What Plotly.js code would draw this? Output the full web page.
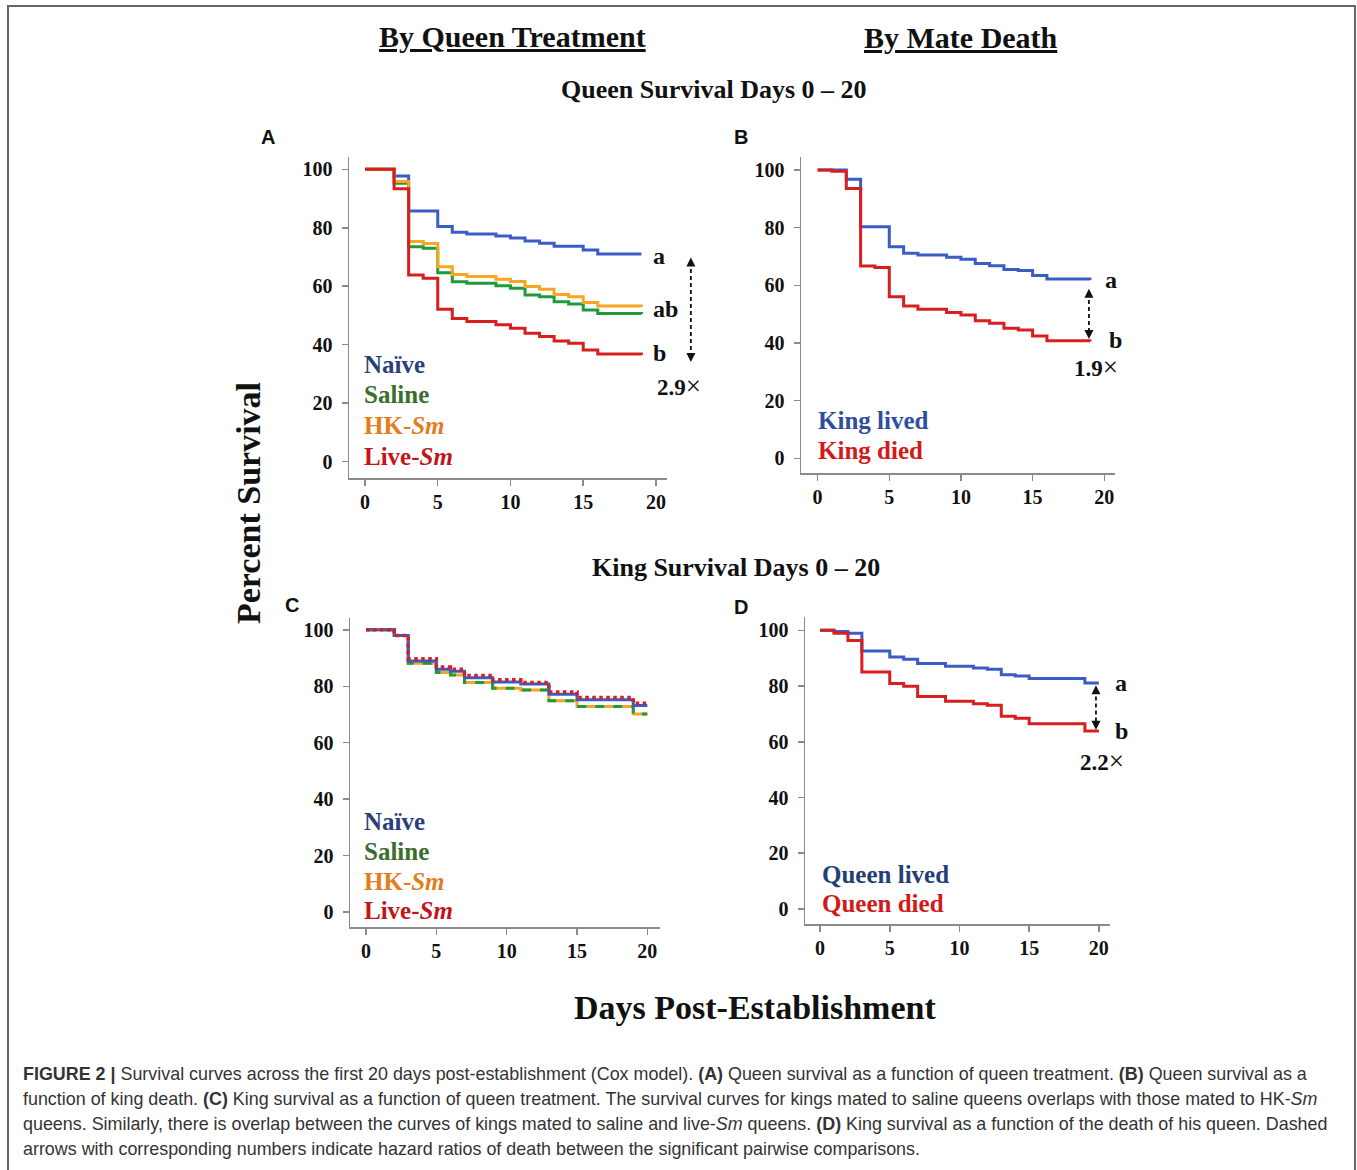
<!DOCTYPE html>
<html><head><meta charset="utf-8">
<script src="https://cdn.plot.ly/plotly-3.0.1.min.js"></script>
<style>html,body{margin:0;padding:0;background:#fff}#chart{width:1357px;height:1170px}</style>
</head><body><div id="chart"></div>
<script>
// ---------- DATA ----------
// Panel A: queen survival by queen treatment (days, % survival)
const aNaiveT  = [0,2,3,5,6,7,9,10,11,12,13,15,16,19];
const aNaiveS  = [100,97.7,85.7,80.4,78.5,77.9,77.2,76.5,75.5,74.7,73.7,72.4,71.0,71.0];
const aSalineT = [0,2,3,4,5,6,7,9,10,11,12,13,14,15,16,19];
const aSalineS = [100,95.2,73.5,73.0,64.6,61.5,61.0,60.2,59.3,57.0,56.4,54.7,53.9,51.9,50.7,50.5];
const aHkT     = [0,2,3,4,5,6,7,9,10,11,12,13,14,15,16,19];
const aHkS     = [100,95.8,75.3,74.6,66.7,64.0,63.3,62.4,61.6,59.9,59.0,57.2,56.4,54.4,53.2,53.0];
const aLiveT   = [0,2,3,4,5,6,7,9,10,11,12,13,14,15,16,19];
const aLiveS   = [100,93.3,63.8,62.7,52.1,49.0,47.9,46.8,45.6,43.9,42.8,41.3,40.5,38.2,36.8,36.5];
// Panel B: queen survival by mate death
const bLivedT = [0,2,3,5,6,7,9,10,11,12,13,14,15,16,19];
const bLivedS = [100,96.8,80.3,73.4,71.1,70.5,69.7,69.0,67.6,66.8,65.5,65.1,63.4,62.2,61.8];
const bDiedT  = [0,1,2,3,4,5,6,7,9,10,11,12,13,14,15,16,19];
const bDiedS  = [100,99.6,93.6,66.7,66.2,56.0,52.8,51.7,50.6,49.7,47.7,46.8,45.1,44.5,42.4,40.8,40.5];
// Panel C: king survival by queen treatment
const cT       = [0,2,3,5,6,7,9,11,13,15,19,20];
const cNaiveS  = [100,98,89.0,86.0,85.3,83.0,81.5,80.8,77.2,75.2,73.2,73.2];
const cLiveS   = [100,98,89.8,86.8,86.0,83.8,82.3,81.3,78.0,76.0,74.0,74.0];
const cHkS     = [100,98,88.2,84.9,84.0,81.3,79.3,78.7,74.9,72.8,70.2,70.2];
const cSalineS = [100,98,88.2,84.9,84.0,81.3,79.3,78.7,74.9,72.8,70.2,70.2];
// Panel D: king survival by queen death
const dT      = [0,1,2,3,5,6,7,9,11,12,13,14,15,19,20];
const dLivedS = [100,99.6,99.0,92.6,90.4,89.6,88.1,87.1,86.5,86.0,84.1,83.6,82.7,81.1,81.1];
const dDiedS  = [100,99.0,96.4,85.1,80.9,79.9,76.3,74.6,73.7,73.1,69.2,68.5,66.5,63.9,63.9];

const xTicks = [0,5,10,15,20];
const yTicks = [0,20,40,60,80,100];

// ---------- STYLE ----------
const W = 1357, H = 1170;
const SERIF = '"Liberation Serif","Times New Roman",serif';
const SANS = '"Liberation Sans",Arial,sans-serif';
const BLUE = '#3a5cc4', RED = '#d81e1e', GREEN = '#1f9b3b', ORANGE = '#f5a623';
const px = v => v / W, py = v => 1 - v / H;

function step(x, y, color, xa, ya, extra) {
  return Object.assign({x, y, xaxis: xa, yaxis: ya, type: 'scatter', mode: 'lines',
    line: {shape: 'hv', color, width: 3}, hoverinfo: 'x+y', showlegend: false}, extra || {});
}
function xAxis(dom, rng, anchor) {
  return {domain: dom, range: rng, anchor, showgrid: false, zeroline: false, showline: true,
    linecolor: '#8a8a8a', linewidth: 1.5, ticks: 'outside', ticklen: 6, tickwidth: 1.5, tickcolor: '#8a8a8a',
    tickvals: xTicks, ticklabelstandoff: -1,
    tickfont: {family: SERIF, size: 20, color: '#111', weight: 'bold'}, fixedrange: true};
}
function yAxis(dom, rng, anchor) {
  return {domain: dom, range: rng, anchor, showgrid: false, zeroline: false, showline: true,
    linecolor: '#8a8a8a', linewidth: 1.5, ticks: 'outside', ticklen: 6, tickwidth: 1.5, tickcolor: '#8a8a8a',
    tickvals: yTicks, ticklabelstandoff: 5,
    tickfont: {family: SERIF, size: 20, color: '#111', weight: 'bold'}, fixedrange: true};
}

const traces = [
  step(aNaiveT, aNaiveS, BLUE, 'x', 'y', {name: 'Naïve'}),
  step(aSalineT, aSalineS, GREEN, 'x', 'y', {name: 'Saline'}),
  step(aHkT, aHkS, ORANGE, 'x', 'y', {name: 'HK-Sm'}),
  step(aLiveT, aLiveS, RED, 'x', 'y', {name: 'Live-Sm'}),
  step(bLivedT, bLivedS, BLUE, 'x2', 'y2', {name: 'King lived'}),
  step(bDiedT, bDiedS, RED, 'x2', 'y2', {name: 'King died'}),
  step(cT, cHkS, ORANGE, 'x3', 'y3', {name: 'HK-Sm'}),
  step(cT, cSalineS, GREEN, 'x3', 'y3', {name: 'Saline', line: {shape: 'hv', color: GREEN, width: 3, dash: 'dash'}}),
  step(cT, cNaiveS, BLUE, 'x3', 'y3', {name: 'Naïve'}),
  step(cT, cLiveS, RED, 'x3', 'y3', {name: 'Live-Sm', line: {shape: 'hv', color: RED, width: 3.5, dash: 'dot'}}),
  step(dT, dLivedS, BLUE, 'x4', 'y4', {name: 'Queen lived'}),
  step(dT, dDiedS, RED, 'x4', 'y4', {name: 'Queen died'})
];

const layout = {
  width: W, height: H, margin: {l: 0, r: 0, t: 0, b: 0},
  paper_bgcolor: '#fff', plot_bgcolor: 'rgba(0,0,0,0)', showlegend: false,
  xaxis:  xAxis([px(349), px(667)], [-1.1, 20.76], 'y'),
  yaxis:  yAxis([py(478), py(157)], [-5.6, 104.2], 'x'),
  xaxis2: xAxis([px(801), px(1115)], [-1.16, 20.75], 'y2'),
  yaxis2: yAxis([py(473), py(157)], [-5.1, 104.5], 'x2'),
  xaxis3: xAxis([px(350), px(660)], [-1.14, 20.9], 'y3'),
  yaxis3: yAxis([py(927), py(618)], [-5.3, 104.2], 'x3'),
  xaxis4: xAxis([px(805), px(1110)], [-1.08, 20.8], 'y4'),
  yaxis4: yAxis([py(924), py(617)], [-5.4, 104.8], 'x4'),
  shapes: [],
  annotations: []
};

// figure frame
layout.shapes.push({type: 'rect', xref: 'paper', yref: 'paper', x0: px(8), x1: px(1355), y0: -0.02, y1: py(6),
  line: {color: '#666', width: 2}, fillcolor: 'rgba(0,0,0,0)'});

function txt(x, y, text, size, color, opts) {
  layout.annotations.push(Object.assign({xref: 'paper', yref: 'paper', x: px(x), y: py(y), text,
    showarrow: false, xanchor: 'center', yanchor: 'middle',
    font: {family: SERIF, size, color, weight: 'bold'}}, opts || {}));
}
// headers
txt(512, 36, '<u>By Queen Treatment</u>', 30, '#111');
txt(961, 38, '<u>By Mate Death</u>', 30, '#111');
txt(714, 90, 'Queen Survival Days 0 – 20', 26, '#111');
txt(736, 567, 'King Survival Days 0 – 20', 26, '#111');
txt(248, 503, 'Percent Survival', 34, '#111', {textangle: -90});
txt(755, 1007, 'Days Post-Establishment', 34, '#111');
// panel letters
[['A', 268, 137], ['B', 741, 137], ['C', 292, 605], ['D', 741, 607]].forEach(p =>
  txt(p[1], p[2], p[0], 20, '#111', {font: {family: SANS, size: 20, color: '#111', weight: 'bold'}}));

// in-panel legends
const NAVY = '#2b3f7c', DGREEN = '#3a6e2c', DORANGE = '#e37d1d', DRED = '#c4141b';
const legA = [['Naïve', NAVY], ['Saline', DGREEN], ['HK-<i>Sm</i>', DORANGE], ['Live-<i>Sm</i>', DRED]];
legA.forEach((l, i) => txt(362, 364 + i * 30.7, l[0], 25, l[1], {xanchor: 'left'}));
legA.forEach((l, i) => txt(362, 822 + i * 29.5, l[0], 25, l[1], {xanchor: 'left'}));
txt(816, 420, 'King lived', 25, '#2f4e9e', {xanchor: 'left'});
txt(816, 451, 'King died', 25, '#d21a1a', {xanchor: 'left'});
txt(820, 874, 'Queen lived', 25, '#243f78', {xanchor: 'left'});
txt(820, 903, 'Queen died', 25, '#d21a1a', {xanchor: 'left'});

// significance letters
const X = '<span style="font-size:27px;font-weight:normal">×</span>';
txt(651, 256, 'a', 24, '#111', {xanchor: 'left'});
txt(651, 309, 'ab', 24, '#111', {xanchor: 'left'});
txt(651, 353, 'b', 24, '#111', {xanchor: 'left'});
txt(655, 386, '2.9' + X, 23, '#111', {xanchor: 'left'});
txt(1103, 280, 'a', 24, '#111', {xanchor: 'left'});
txt(1107, 340, 'b', 24, '#111', {xanchor: 'left'});
txt(1072, 367, '1.9' + X, 23, '#111', {xanchor: 'left'});
txt(1113, 683, 'a', 24, '#111', {xanchor: 'left'});
txt(1113, 731, 'b', 24, '#111', {xanchor: 'left'});
txt(1078, 761, '2.2' + X, 23, '#111', {xanchor: 'left'});

// hazard-ratio dashed arrows (x in axis-domain fraction, y in data units)
function hrArrow(xr, yr, xd, yTop, yBot) {
  const xref = xr + ' domain';
  layout.shapes.push({type: 'line', xref, yref: yr, x0: xd, x1: xd, y0: yTop - 1.5, y1: yBot + 1.5,
    line: {color: '#111', width: 1.8, dash: '4px,3px'}});
  layout.annotations.push({xref, yref: yr, x: xd, y: yTop, text: '', showarrow: true, ax: 0, ay: 9,
    arrowhead: 2, arrowsize: 1, arrowwidth: 1.8, arrowcolor: '#111'});
  layout.annotations.push({xref, yref: yr, x: xd, y: yBot, text: '', showarrow: true, ax: 0, ay: -9,
    arrowhead: 2, arrowsize: 1, arrowwidth: 1.8, arrowcolor: '#111'});
}
hrArrow('x', 'y', 1.075, 69.8, 34.1);
hrArrow('x2', 'y2', 0.917, 58.8, 41.4);
hrArrow('x4', 'y4', 0.954, 80.3, 64.3);

// caption
const cap = [
  '<b>FIGURE 2 |</b> Survival curves across the first 20 days post-establishment (Cox model). <b>(A)</b> Queen survival as a function of queen treatment. <b>(B)</b> Queen survival as a',
  'function of king death. <b>(C)</b> King survival as a function of queen treatment. The survival curves for kings mated to saline queens overlaps with those mated to HK-<i>Sm</i>',
  'queens. Similarly, there is overlap between the curves of kings mated to saline and live-<i>Sm</i> queens. <b>(D)</b> King survival as a function of the death of his queen. Dashed',
  'arrows with corresponding numbers indicate hazard ratios of death between the significant pairwise comparisons.'
];
cap.forEach((c, i) => layout.annotations.push({xref: 'paper', yref: 'paper', x: px(21), y: py(1074 + i * 25),
  xanchor: 'left', yanchor: 'middle', showarrow: false, text: c, align: 'left',
  font: {family: SANS, size: 17.9, color: '#333'}}));

Plotly.newPlot('chart', traces, layout, {staticPlot: true, displayModeBar: false});
</script>
</body></html>
